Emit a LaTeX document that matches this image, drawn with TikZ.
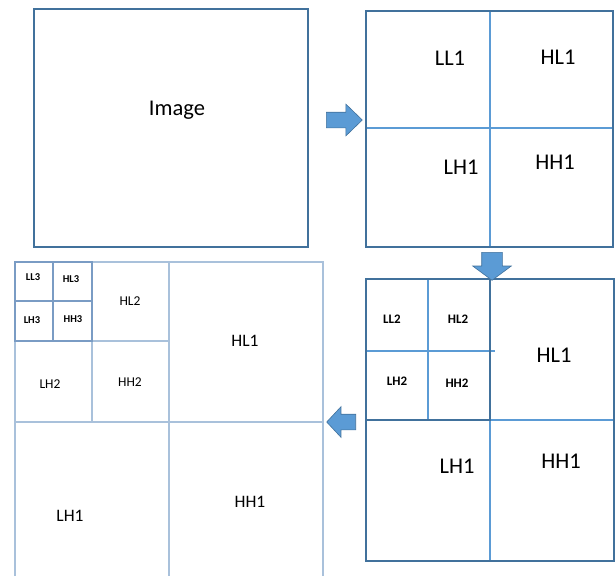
\documentclass[tikz,border=0pt]{standalone}
\usepackage{fontspec}
\setmainfont{Carlito}
\usetikzlibrary{shapes.arrows, positioning}
\definecolor{frameblue}{HTML}{41719C}
\definecolor{lineblue}{HTML}{5B9BD5}
\definecolor{paleblue}{HTML}{A9C1DB}
\definecolor{midblue}{HTML}{7A9CC4}

\begin{document}
\begin{tikzpicture}[x=1pt, y=-1pt,
                        frame/.style={draw=frameblue, line width=1.6pt},
                        split/.style={draw=lineblue, line width=1.1pt},
                        faded/.style={draw=paleblue, line width=1.8pt},
                        fadedin/.style={draw=midblue, line width=1.4pt},
                        big/.style={font=\fontsize{22.5}{26}\selectfont},
                        mid/.style={font=\fontsize{17.5}{20}\selectfont},
                        small/.style={font=\fontsize{13.5}{16}\selectfont},
                        tinyb/.style={font=\fontsize{13}{15}\selectfont\bfseries},
                        tinyc/.style={font=\fontsize{10.5}{12}\selectfont\bfseries},
                        blockarrow/.style={single arrow, fill=lineblue, draw=frameblue, line width=0.6pt, inner sep=0pt, anchor=tail}]
                        \useasboundingbox (0,0) rectangle (615,576);
                        % input image
                        \draw[frame] (34,9) rectangle (308,247);
                        \node[big] (img) at (177,110) {Image};
                        % first level
                        \draw[split] (366,128) -- (613,128) (490,11) -- (490,247);
                        \draw[frame] (366,11) rectangle (613,247);
                        \node[big] (ll1a) at (450,58) {LL1};
                        \node[big] (hl1a) at (558,57) {HL1};
                        \node[big] (lh1a) at (461,167) {LH1};
                        \node[big] (hh1a) at (555,162) {HH1};
                        % second level
                        \draw[split] (490,420) -- (614,420) (490,420) -- (490,561);
                        \draw[split] (366,351) -- (495,351) (428,279) -- (428,420);
                        \draw[frame] (366,279) rectangle (614,561);
                        \draw[frame] (366,279) rectangle (490,420);
                        \node[tinyb] (ll2b) at (392,319) {LL2};
                        \node[tinyb] (hl2b) at (458,319) {HL2};
                        \node[tinyb] (lh2b) at (397,381) {LH2};
                        \node[tinyb] (hh2b) at (457,383) {HH2};
                        \node[big] (hl1b) at (554,355) {HL1};
                        \node[big] (lh1b) at (457,466) {LH1};
                        \node[big] (hh1b) at (561,461) {HH1};
                        % third level
                        \draw[faded] (15,576) -- (15,262) -- (323,262) -- (323,576)
                        (169,262) -- (169,576) (15,422) -- (323,422);
                        \draw[faded] (92,262) -- (92,422) (15,341) -- (169,341);
                        \draw[fadedin] (53,262) -- (53,341) (15,301) -- (92,301)
                        (15,262) -- (92,262) -- (92,341) -- (15,341) -- cycle;
                        \node[tinyc] (ll3c) at (33,277) {LL3};
                        \node[tinyc] (hl3c) at (71,279) {HL3};
                        \node[tinyc] (lh3c) at (32,320) {LH3};
                        \node[tinyc] (hh3c) at (73,319) {HH3};
                        \node[small] (hl2c) at (130,301) {HL2};
                        \node[small] (lh2c) at (50,384) {LH2};
                        \node[small] (hh2c) at (130,382) {HH2};
                        \node[mid] (hl1c) at (245,341) {HL1};
                        \node[mid] (lh1c) at (70,516) {LH1};
                        \node[mid] (hh1c) at (250,502) {HH1};
                        % arrows
                        \node[blockarrow, minimum height=36pt, inner ysep=7.5pt,
                        single arrow head extend=8pt, single arrow tip angle=88] (go1) at (326,120) {};
                        \node[blockarrow, minimum height=28pt, inner ysep=10pt, rotate=-90,
                        single arrow head extend=9pt, single arrow tip angle=107] (go2) at (492,252) {};
                        \node[blockarrow, minimum height=29pt, inner ysep=7.5pt, rotate=180,
                        single arrow head extend=7.5pt, single arrow tip angle=94] (go3) at (356,422) {};
                    \end{tikzpicture}
\end{document}
